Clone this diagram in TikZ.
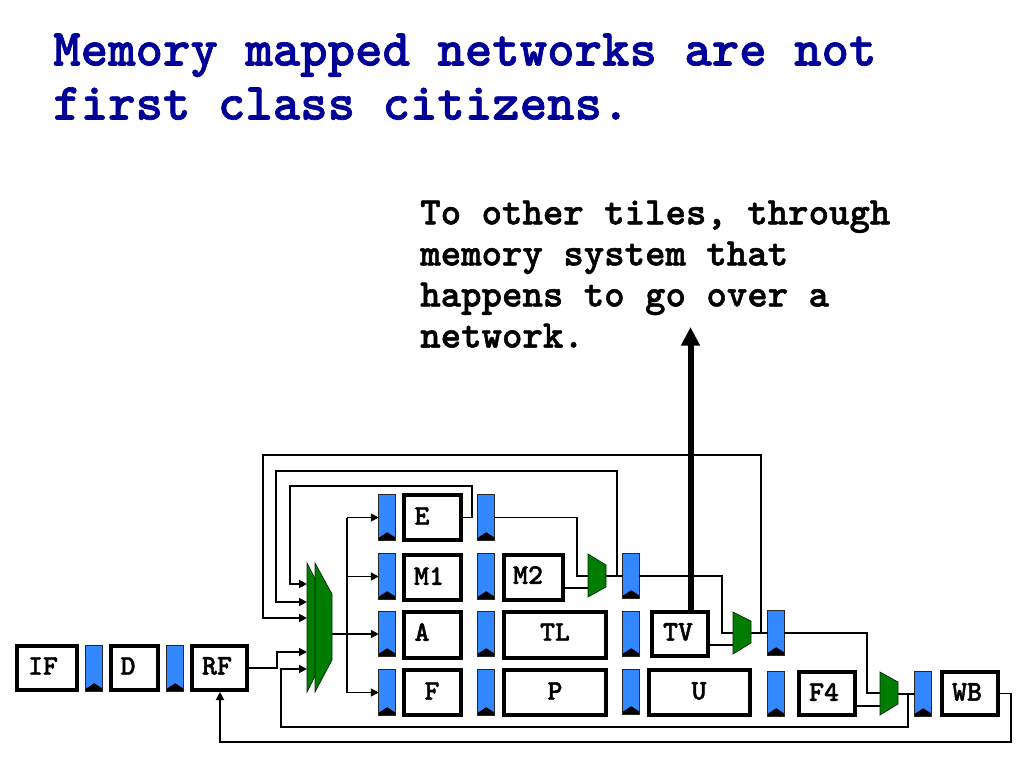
\documentclass[tikz,border=0pt]{standalone}
\usepackage{fontspec}
\newfontfamily\slab{lmmonolt10-bold}[Extension=.otf,FakeBold=1.3]
\usetikzlibrary{arrows.meta}
\definecolor{titleblue}{RGB}{0,0,153}
\definecolor{latchblue}{RGB}{51,136,255}
\definecolor{muxgreen}{RGB}{0,125,0}
\tikzset{
  stagebox/.style={draw=black,line width=3pt,fill=white,inner sep=0pt,outer sep=0pt},
  stagetext/.style={font=\slab\fontsize{21.4}{23}\selectfont,inner sep=0pt,text=black},
  latchbox/.style={draw=black!85,line width=1.1pt,fill=latchblue,inner sep=0pt,outer sep=0pt,
    path picture={\fill[black] (path picture bounding box.south west) -- ++(0,-2.5) -- ++(8.5,-5.5) -- ++(8.5,5.5) -- (path picture bounding box.south east) -- cycle;}},
  muxshape/.style={draw=black!70!muxgreen,line width=.5pt,fill=muxgreen},
  wire/.style={draw=black,line width=1.35pt,line join=miter},
  wirearrow/.style={wire,-{Triangle[length=6pt,width=6pt]}},
  bigarrow/.style={draw=black,line width=4.5pt,-{Triangle[length=14pt,width=13.5pt]}},
  titletext/.style={font=\slab\fontsize{39.2}{40.5}\selectfont,text=titleblue,align=left,inner sep=0pt,anchor=base west},
  bodytext/.style={font=\slab\fontsize{29.2}{30.8}\selectfont,text=black,align=left,inner sep=0pt,anchor=base west}
}
% name, x1, y1, x2, y2 (outer edges), label x, label y, label
\newcommand{\stg}[8]{%
  \node[stagebox,minimum width={(#4-#2-4)*0.75pt},minimum height={(#5-#3-4)*0.75pt}] (#1) at ({(#2+#4)/2},{(#3+#5)/2}) {};
  \node[stagetext] (#1-t) at (#6,#7) {#8};}
% name, x1, y1, x2, y2
\newcommand{\ltc}[5]{%
  \node[latchbox,minimum width={(#4-#2-1.5)*0.75pt},minimum height={(#5-#3-1.5)*0.75pt}] (#1) at ({(#2+#4)/2},{(#3+#5)/2}) {};}
\begin{document}
\begin{tikzpicture}[x=0.75pt,y=-0.75pt]
\useasboundingbox (0,0) rectangle (1024,768);
\node[titletext] (title) at (53,119.5) {Memory mapped networks are not\\first class citizens.};
\node[bodytext] (note) at (420,347.5) {To other tiles, through\\memory system that\\happens to go over a\\network.};

% stages
\stg{IF}{15}{644}{79}{692}{43}{666}{IF}
\stg{D}{109}{644}{160}{692}{128}{666}{D}
\stg{RF}{190}{644}{249}{692}{217}{666}{RF}
\stg{E}{402}{493}{463}{542}{422}{516}{E}
\stg{M1}{402}{553}{463}{602}{429}{576}{M1}
\stg{A}{402}{610}{463}{660}{422}{632}{A}
\stg{F}{402}{668}{463}{717}{432}{691}{F}
\stg{M2}{502}{553}{565}{602}{528}{575}{M2}
\stg{TL}{502}{610}{608}{660}{555}{632}{TL}
\stg{P}{502}{668}{608}{717}{555}{691}{P}
\stg{TV}{650}{610}{710}{658}{678}{632}{TV}
\stg{U}{647}{668}{752}{717}{699}{691}{U}
\stg{F4}{797}{670}{857}{717}{824}{692}{F4}
\stg{WB}{940}{670}{1000}{717}{967}{692}{WB}

% latches
\ltc{L1}{85}{645}{103}{692}
\ltc{L2}{166}{645}{184}{692}
\ltc{LE1}{378}{494}{396}{541}
\ltc{LM1}{378}{553}{396}{600}
\ltc{LA1}{378}{611}{396}{657}
\ltc{LF1}{378}{669}{396}{716}
\ltc{LE2}{477}{494}{495}{541}
\ltc{LM2}{477}{553}{495}{600}
\ltc{LA2}{477}{611}{495}{657}
\ltc{LF2}{477}{669}{495}{716}
\ltc{LM3}{622}{553}{640}{599}
\ltc{LA3}{622}{611}{640}{657}
\ltc{LF3}{622}{669}{640}{715}
\ltc{LA4}{767}{610}{785}{656}
\ltc{LF4}{767}{671}{785}{717}
\ltc{LW}{914}{671}{932}{717}

% named connector points
\coordinate (bmO) at (332,634);
\coordinate (bmRF) at (307,652);
\coordinate (bmWB) at (307,669);
\coordinate (bmA) at (307,618);
\coordinate (bmB) at (307,602);
\coordinate (bmC) at (307,584);
\coordinate (busTop) at (347,517.5);
\coordinate (busBot) at (347,692.5);
\coordinate (rfOut) at (249,668);
\coordinate (eOut) at (463,517.5);
\coordinate (m2Out) at (565,588);
\coordinate (tvOut) at (710,645);
\coordinate (f4Out) at (857,706);
\coordinate (m1a) at (588,576);
\coordinate (m1b) at (588,588);
\coordinate (m1o) at (606,576);
\coordinate (m2a) at (733,633);
\coordinate (m2b) at (733,645);
\coordinate (m2o) at (751,633);
\coordinate (m3a) at (880,693);
\coordinate (m3b) at (880,706);
\coordinate (m3o) at (898,694);
\coordinate (tapM) at (617,576);
\coordinate (tapA) at (761,633);
\coordinate (tapW) at (908,694);
\coordinate (wbOut) at (1000,693.5);
\coordinate (tvTop) at (690.5,612);
\coordinate (tvTip) at (690.5,327);

% connectors
\draw[wirearrow] (rfOut) -- (277,668) -- (277,652) -- (bmRF);
\draw[wirearrow] (tapW) -- (908,727) -- (281,727) -- (281,669) -- (bmWB);
\draw[wirearrow] (wbOut) -- (1011,693.5) -- (1011,742) -- (220,742) -- (220,692);
\draw[wire] (busTop) -- (busBot);
\draw[wirearrow] (busTop) -- (LE1.west);
\draw[wirearrow] (347,576.5) -- (LM1.west);
\draw[wirearrow] (bmO) -- (LA1.west);
\draw[wirearrow] (busBot) -- (LF1.west);
\draw[wirearrow] (tapA) -- (761,455) -- (263,455) -- (263,618) -- (bmA);
\draw[wirearrow] (tapM) -- (617,471) -- (276,471) -- (276,602) -- (bmB);
\draw[wirearrow] (eOut) -- (472,517.5) -- (472,486) -- (290,486) -- (290,584) -- (bmC);
\draw[wire] (LE2.east) -- (577,517.5) -- (577,576) -- (m1a);
\draw[wire] (m2Out) -- (m1b);
\draw[wire] (m1o) -- (LM3.west |- m1o);
\draw[wire] (LM3.east |- m1o) -- (722,576) -- (722,633) -- (m2a);
\draw[wire] (tvOut) -- (m2b);
\draw[wire] (m2o) -- (LA4.west |- m2o);
\draw[wire] (LA4.east |- m2o) -- (867,633) -- (867,693) -- (m3a);
\draw[wire] (f4Out) -- (m3b);
\draw[wire] (m3o) -- (LW.west |- m3o);

% muxes
\draw[muxshape] (307,563) -- (323,594) -- (323,660) -- (307,692) -- cycle;
\draw[muxshape] (315,563) -- (332,594) -- (332,660) -- (315,692) -- cycle;
\draw[muxshape] (588,554) -- (606,565) -- (606,587) -- (588,597) -- cycle;
\draw[muxshape] (733,612) -- (751,621) -- (751,643) -- (733,654) -- cycle;
\draw[muxshape] (880,672) -- (898,682) -- (898,704) -- (880,715) -- cycle;

% thick arrow
\draw[bigarrow] (tvTop) -- (tvTip);
\end{tikzpicture}
\end{document}
